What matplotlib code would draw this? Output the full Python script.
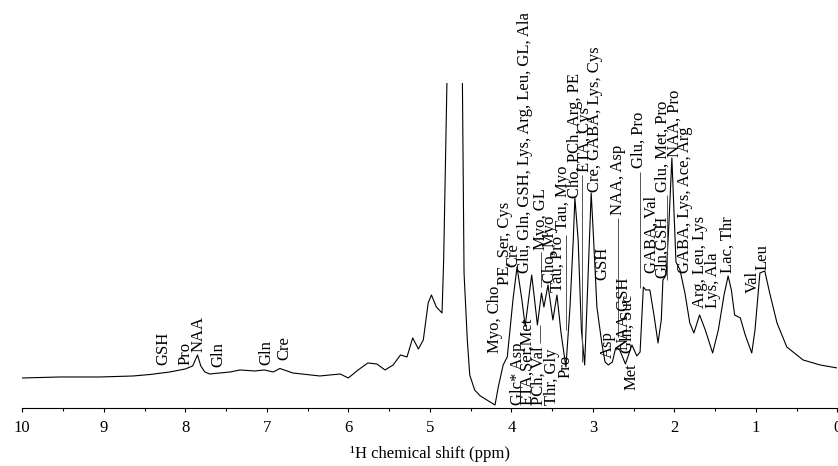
import numpy as np
import matplotlib
matplotlib.use("Agg")
import matplotlib.pyplot as plt

plt.rcParams['font.family'] = ['Liberation Serif', 'DejaVu Serif']

# spectrum: chemical shift (ppm) and intensity (a.u.)
ppm = [10.00, 9.54, 9.05, 8.64, 8.43, 8.19, 8.00, 7.91, 7.85, 7.81, 7.76, 7.70,
       7.45, 7.33, 7.15, 7.03, 6.92, 6.84, 6.68, 6.35, 6.10, 6.00, 5.88, 5.76,
       5.65, 5.55, 5.45, 5.36, 5.28, 5.21, 5.14, 5.08, 5.02, 4.98, 4.92, 4.85,
       4.83, 4.79, 4.70, 4.60, 4.58, 4.54, 4.51, 4.45, 4.38, 4.30, 4.24, 4.20,
       4.16, 4.10, 4.05, 4.02, 3.98, 3.93, 3.87, 3.83, 3.80, 3.75, 3.71, 3.68,
       3.63, 3.60, 3.55, 3.49, 3.44, 3.39, 3.33, 3.28, 3.24, 3.22, 3.18, 3.14,
       3.10, 3.06, 3.02, 2.99, 2.95, 2.89, 2.85, 2.81, 2.76, 2.72, 2.67, 2.60,
       2.52, 2.46, 2.42, 2.38, 2.35, 2.30, 2.25, 2.20, 2.16, 2.14, 2.10, 2.07,
       2.03, 2.00, 1.98, 1.93, 1.87, 1.81, 1.76, 1.69, 1.62, 1.53, 1.46, 1.39,
       1.34, 1.30, 1.26, 1.19, 1.13, 1.05, 1.01, 0.95, 0.89, 0.83, 0.74, 0.62,
       0.42, 0.21, 0.00]
intensity = [30, 31, 31, 32, 33.5, 36, 39, 42, 53, 42, 36, 34,
             36, 38, 37, 38, 36, 39.5, 35, 32, 34, 30, 38, 45,
             44, 38, 43, 53, 51, 70, 59, 68, 105, 113, 101, 95,
             148, 325, 2000, 325, 135, 68, 33, 18, 12, 8, 5, 3,
             21, 43, 51, 75, 108, 141, 108, 82, 101, 133, 105, 83,
             115, 101, 123, 88, 113, 75, 41, 101, 168, 210, 168, 78,
             43, 128, 215, 168, 101, 65, 46, 43, 46, 60, 58, 44,
             63, 52, 56, 121, 118, 118, 93, 65, 88, 128, 133, 178,
             250, 188, 146, 138, 115, 85, 75, 93, 78, 55, 78, 113,
             132, 118, 93, 90, 73, 55, 78, 135, 137, 115, 85, 61,
             48, 43, 40]

# peak assignments: text, shift, height of label base
labels = ["GSH", "Pro", "NAA", "Gln", "Gln", "Cre",
          "Myo, Cho", "PE, Ser, Cys", "Cre",
          "Glu, Gln, GSH, Lys, Arg, Leu, GL, Ala",
          "Myo, GL", "Cho, Myo", "Tau, Pro", "Tau, Myo",
          "Cho, PCh, Arg, PE", "ETA, Cys", "Cre, GABA, Lys, Cys",
          "GSH", "NAA, Asp", "Asp", "Met", "NAA,GSH", "Gln, Suc",
          "Glu, Pro", "GABA, Val", "Gln,GSH", "Glu, Met, Pro", "NAA, Pro",
          "GABA, Lys, Ace, Arg", "Arg, Leu, Lys", "Lys, Ala", "Lac, Thr",
          "Val", "Leu",
          "Glc* Asp", "ETA,Ser,Met", "PCh, Val", "Thr, Gly", "Pro"]
label_ppm = [8.27, 8.00, 7.84, 7.60, 7.00, 6.78,
             4.20, 4.08, 3.98,
             3.83,
             3.64, 3.53, 3.43, 3.37,
             3.22, 3.10, 2.97,
             2.88, 2.69, 2.81, 2.52, 2.63, 2.57,
             2.44, 2.28, 2.15, 2.14, 1.99,
             1.87, 1.69, 1.53, 1.34,
             1.04, 0.92,
             3.92, 3.81, 3.67, 3.50, 3.34]
label_y = [43, 43, 56, 41, 43, 48,
           55, 123, 141,
           135,
           158, 125, 116, 178,
           210, 236, 216,
           128, 193, 50, 18, 58, 55,
           240, 135, 130, 216, 251,
           135, 100, 100, 135,
           115, 138,
           3, 3, 3, 3, 30]

# leader lines from label to peak: shift, top, bottom
lead_ppm = [3.63, 3.33, 3.65, 3.13, 2.69, 2.42, 2.09]
lead_top = [156, 173, 83, 233, 190, 236, 213]
lead_bot = [121, 78, 65, 46, 71, 120, 128]

fig = plt.figure(figsize=(8.38, 4.66), dpi=100)
ax = fig.add_axes([0.0266, 0.1245, 0.9726, 0.6975])

ax.plot(ppm, intensity, color='black', lw=0.8)
ax.vlines(lead_ppm, lead_bot, lead_top, color='#555555', lw=0.7)

for t, x, y in zip(labels, label_ppm, label_y):
    ax.text(x, y, t, rotation=90, ha='center', va='bottom', fontsize=12,
            clip_on=False)

ax.set_xlim(10, 0)
ax.set_ylim(0, 325)
ax.set_xticks(np.arange(0, 11, 1))
ax.set_xticks(np.arange(0.5, 10, 1), minor=True)
ax.set_yticks([])
for s in ['top', 'right', 'left']:
    ax.spines[s].set_visible(False)
ax.spines['bottom'].set_linewidth(0.8)
ax.tick_params(axis='x', which='major', length=3, width=0.8, labelsize=12, pad=5.5)
ax.tick_params(axis='x', which='minor', length=2.5, width=0.8)
ax.set_xlabel('¹H chemical shift (ppm)', fontsize=12, labelpad=7)

fig.savefig('out.png', dpi=100)
